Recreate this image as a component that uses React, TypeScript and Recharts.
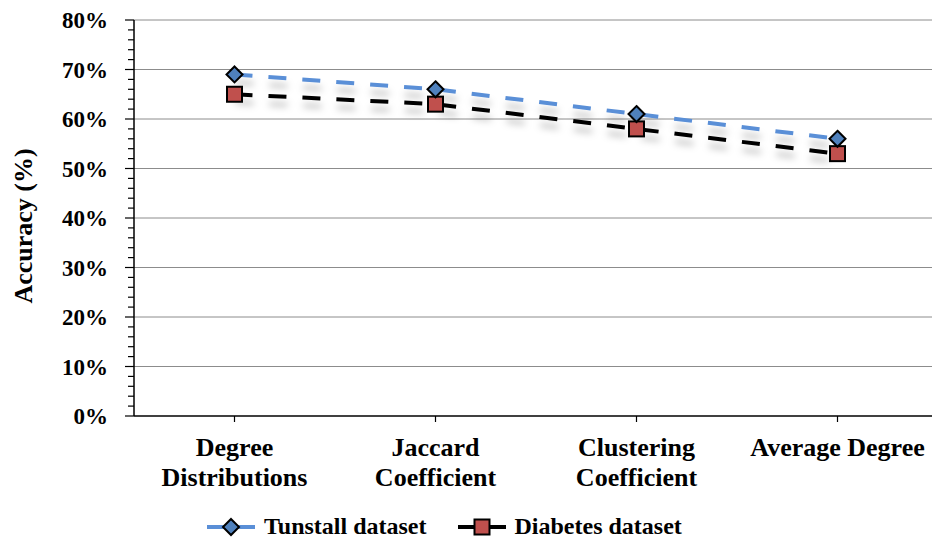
import React from "react";
import { LineChart, Line, XAxis, YAxis, CartesianGrid } from "recharts";

// ── Data ──────────────────────────────────────────────────────────────────────

const categories = ["Degree Distributions", "Jaccard Coefficient", "Clustering Coefficient", "Average Degree"];
const categoryLines = [["Degree", "Distributions"], ["Jaccard", "Coefficient"], ["Clustering", "Coefficient"], ["Average Degree"]];
const tunstall = [69, 66, 61, 56];
const diabetes = [65, 63, 58, 53];
const yTicks = Array.from({ length: 41 }, (_, i) => i * 2);
const gridValues = [10, 20, 30, 40, 50, 60, 70, 80];

const data = categories.map((c, i) => ({ cat: c, tunstall: tunstall[i], diabetes: diabetes[i] }));

const BLUE_LINE = "#5a8fd7";
const BLUE_FILL = "#4f81bd";
const RED_FILL = "#c0504d";
const FONT = "'Liberation Serif', 'Times New Roman', serif";

// ── Marks ─────────────────────────────────────────────────────────────────────

function Diamond({ cx, cy }: { cx?: number; cy?: number }) {
  if (cx == null || cy == null) return null;
  const r = 8;
  return (
    <path
      d={`M${cx},${cy - r}L${cx + r},${cy}L${cx},${cy + r}L${cx - r},${cy}Z`}
      fill={BLUE_FILL}
      stroke="#000"
      strokeWidth={2}
    />
  );
}

function Square({ cx, cy }: { cx?: number; cy?: number }) {
  if (cx == null || cy == null) return null;
  const s = 15;
  return <rect x={cx - s / 2} y={cy - s / 2} width={s} height={s} fill={RED_FILL} stroke="#000" strokeWidth={2} />;
}

function YTick({ x, y, payload }: any) {
  const major = payload.value % 10 === 0;
  return (
    <g>
      <line x1={x - (major ? 9 : 6)} x2={x} y1={y} y2={y} stroke="#000" strokeWidth={1.2} />
      {major && (
        <text
          x={x - 26}
          y={y + 8}
          textAnchor="end"
          fontFamily={FONT}
          fontWeight="bold"
          fontSize={23}
          fill="#000"
        >
          {payload.value}%
        </text>
      )}
    </g>
  );
}

function XTick({ x, y, index }: any) {
  const lines = categoryLines[index] ?? [];
  return (
    <text x={x} y={y} textAnchor="middle" fontFamily={FONT} fontWeight="bold" fontSize={26} fill="#000">
      {lines.map((l: string, i: number) => (
        <tspan key={i} x={x} dy={i === 0 ? 32 : 30}>
          {l}
        </tspan>
      ))}
    </text>
  );
}

// ── Legend ────────────────────────────────────────────────────────────────────

function LegendItem({ kind, label }: { kind: "diamond" | "square"; label: string }) {
  const color = kind === "diamond" ? BLUE_LINE : "#000";
  return (
    <div style={{ display: "flex", alignItems: "center", gap: 8 }}>
      <svg width={50} height={20}>
        <line x1={1} x2={49} y1={10} y2={10} stroke={color} strokeWidth={4} />
        {kind === "diamond" ? <Diamond cx={25} cy={10} /> : <Square cx={25} cy={10} />}
      </svg>
      <span style={{ fontFamily: FONT, fontWeight: "bold", fontSize: 24, color: "#000" }}>{label}</span>
    </div>
  );
}

// ── Chart ─────────────────────────────────────────────────────────────────────

export default function App() {
  return (
    <div style={{ position: "absolute", left: 0, top: 0, width: 932, height: 542, overflow: "hidden", background: "#fff" }}>
      <style>{`.recharts-line { filter: url(#softShadow); }`}</style>
      <LineChart width={940} height={500} data={data} margin={{ top: 20, right: 2, left: 0, bottom: 0 }}>
        <defs>
          <filter id="softShadow" x="-20%" y="-50%" width="140%" height="200%">
            <feDropShadow dx={1} dy={8} stdDeviation={3.5} floodColor="#000" floodOpacity={0.25} />
          </filter>
        </defs>
        <CartesianGrid horizontal vertical={false} horizontalValues={gridValues} stroke="#8c8c8c" strokeWidth={1} />
        <XAxis
          dataKey="cat"
          scale="band"
          height={84}
          tick={<XTick />}
          tickSize={6}
          tickMargin={2}
          interval={0}
          axisLine={{ stroke: "#000", strokeWidth: 1.5 }}
          tickLine={{ stroke: "#000", strokeWidth: 1.2 }}
        />
        <YAxis
          width={134}
          domain={[0, 80]}
          ticks={yTicks}
          interval={0}
          tickSize={0}
          tickMargin={0}
          tick={<YTick />}
          tickLine={false}
          axisLine={{ stroke: "#000", strokeWidth: 1.5 }}
        />
        <text
          x={32}
          y={226}
          transform="rotate(-90 32 226)"
          textAnchor="middle"
          fontFamily={FONT}
          fontWeight="bold"
          fontSize={26}
          fill="#000"
        >
          Accuracy (%)
        </text>
        <Line
          dataKey="diabetes"
          name="Diabetes dataset"
          stroke="#000"
          strokeWidth={4}
          strokeDasharray="18 16"
          dot={<Square />}
          activeDot={false}
          isAnimationActive={false}
        />
        <Line
          dataKey="tunstall"
          name="Tunstall dataset"
          stroke={BLUE_LINE}
          strokeWidth={4}
          strokeDasharray="18 16"
          dot={<Diamond />}
          activeDot={false}
          isAnimationActive={false}
        />
      </LineChart>
      <div style={{ position: "absolute", left: 206, top: 513, display: "flex", gap: 30 }}>
        <LegendItem kind="diamond" label="Tunstall dataset" />
        <LegendItem kind="square" label="Diabetes dataset" />
      </div>
    </div>
  );
}
